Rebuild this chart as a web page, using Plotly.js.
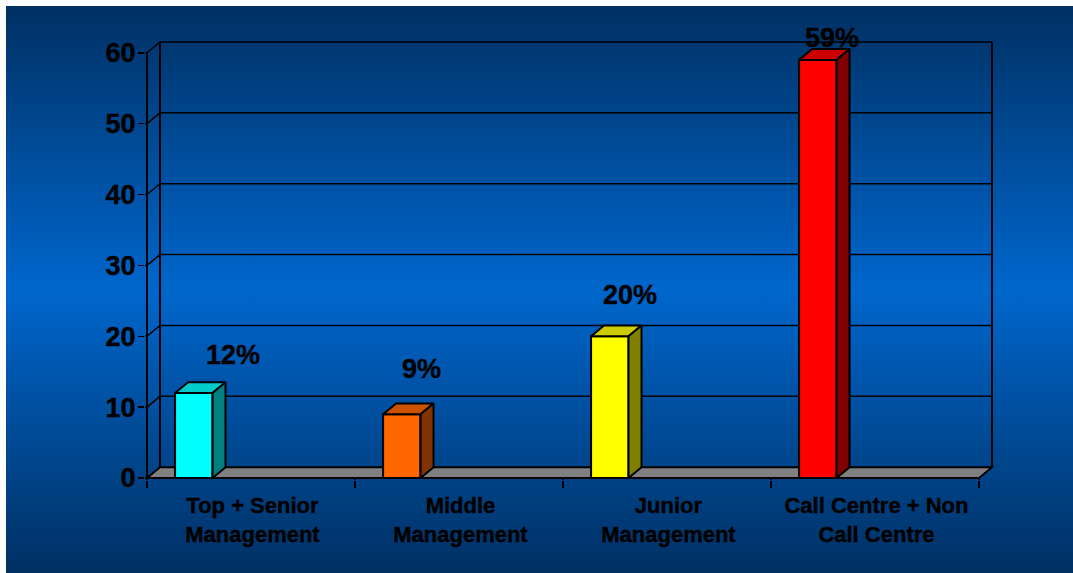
<!DOCTYPE html>
<html>
<head>
<meta charset="utf-8">
<script src="https://cdn.plot.ly/plotly-3.0.1.min.js"></script>
<style>
  html, body { margin: 0; padding: 0; background: #fff; overflow: hidden; }
  #backdrop { position: absolute; left: 6px; top: 6px; right: 0; bottom: 0;
    background: linear-gradient(to bottom, #003063 0%, #0066cc 50%, #003063 100%); }
  #chart { position: absolute; left: 0; top: 0; width: 1073px; height: 573px; }
  /* Slightly heavier lettering than the plain bold face */
  #chart svg text { stroke: #000; stroke-width: 0.4px; }
</style>
</head>
<body>
<div id="backdrop"></div>
<div id="chart"></div>
<script>
// Staff levels, share of respondents in percent
const categories = ["Top + Senior<br>Management", "Middle<br>Management", "Junior<br>Management", "Call Centre + Non<br>Call Centre"];
const values = [12, 9, 20, 59];
const frontColors = ["#00ffff", "#ff6600", "#ffff00", "#ff0000"];
const topColors = ["#00cccc", "#cc5200", "#cccc00", "#cc0000"];
const sideColors = ["#008080", "#803300", "#808000", "#800000"];
const valueTicks = [0, 10, 20, 30, 40, 50, 60];

// Pseudo-3D geometry, all in axis units
const pxPerCat = 208, pxPerVal = 7.083;
const depthX = 13 / pxPerCat, depthY = 10.8 / pxPerVal;
const padX = 2 / pxPerCat, padY = 2 / pxPerVal;
const barStart = 0.135, barWidth = 0.18;
const labelCentre = 0.507;
const nCat = categories.length, valMax = 60;

const lineStyle = { color: "#000", width: 1.5 };
const wallStyle = { color: "#000", width: 2 };
const seg = (x0, y0, x1, y1, line) => ({ type: "line", xref: "x", yref: "y", layer: "below", x0, y0, x1, y1, line });

const shapes = [];
// Floor
shapes.push({ type: "path", xref: "x", yref: "y", layer: "below",
  path: `M0,0 L${depthX},${depthY} L${nCat + depthX},${depthY} L${nCat},0 Z`,
  fillcolor: "#808080", line: wallStyle });
// Gridlines on the back and left walls, each with its tick stub
valueTicks.slice(1).forEach(v => {
  shapes.push({ type: "path", xref: "x", yref: "y", layer: "below",
    path: `M${-padX},${v} L0,${v} L${depthX},${v + depthY} L${nCat + depthX},${v + depthY}`,
    line: lineStyle });
});
shapes.push({ type: "line", xref: "x", yref: "y", layer: "below", x0: -padX, y0: 0, x1: 0, y1: 0, line: lineStyle });
// Wall edges
shapes.push(seg(0, 0, 0, valMax, wallStyle));
shapes.push(seg(depthX, depthY, depthX, valMax + depthY, wallStyle));
shapes.push(seg(nCat + depthX, depthY, nCat + depthX, valMax + depthY, wallStyle));
// Stubs joining the category ticks to the floor edge
for (let i = 0; i <= nCat; i++) shapes.push(seg(i, -padY, i, 0, lineStyle));

const barCenters = values.map((_, i) => i + barStart + barWidth / 2);

const traces = [{
  type: "bar",
  x: barCenters,
  y: values,
  width: barWidth,
  marker: { color: frontColors, line: { color: "#000", width: 2 } },
  hoverinfo: "skip",
  showlegend: false
}];

// Top and side faces of each bar
values.forEach((v, i) => {
  const x0 = i + barStart, x1 = x0 + barWidth;
  traces.push({
    type: "scatter", mode: "lines", fill: "toself", fillcolor: topColors[i],
    x: [x0, x0 + depthX, x1 + depthX, x1, x0],
    y: [v, v + depthY, v + depthY, v, v],
    line: wallStyle, hoverinfo: "skip", showlegend: false
  });
  traces.push({
    type: "scatter", mode: "lines", fill: "toself", fillcolor: sideColors[i],
    x: [x1, x1 + depthX, x1 + depthX, x1, x1],
    y: [0, depthY, v + depthY, v, 0],
    line: wallStyle, hoverinfo: "skip", showlegend: false
  });
});

// Value labels sit at hand-placed offsets from the bar tops
const labelDx = [39, 20, 20, 14];
const labelDy = [38, 45, 41, 22];
const annotations = values.map((v, i) => ({
  xref: "x", yref: "y", x: barCenters[i], y: v,
  text: v + "%", showarrow: false, xanchor: "center", yanchor: "middle",
  xshift: labelDx[i], yshift: labelDy[i],
  font: { family: "Liberation Sans", size: 27, color: "#000", weight: 700 }
}));

const layout = {
  width: 1073, height: 573,
  margin: { l: 144.7, r: 79.3, t: 40.2, b: 93, pad: 0 },
  paper_bgcolor: "rgba(0,0,0,0)",
  plot_bgcolor: "rgba(0,0,0,0)",
  showlegend: false,
  hovermode: false,
  xaxis: {
    type: "linear",
    range: [-padX, nCat + depthX + padX],
    tickmode: "array",
    tickvals: categories.map((_, i) => i + labelCentre),
    ticktext: categories,
    ticks: "",
    ticklabelstandoff: 10,
    showgrid: false, zeroline: false, showline: false,
    tickfont: { family: "Liberation Sans", size: 22, color: "#000", weight: 700 },
    minor: { tickmode: "array", tickvals: categories.map((_, i) => i).concat(nCat), ticks: "outside", ticklen: 7, tickwidth: 1.5, tickcolor: "#000", showgrid: false }
  },
  yaxis: {
    range: [-padY, valMax + depthY + padY],
    tickmode: "array",
    tickvals: valueTicks,
    ticks: "outside", ticklen: 6, tickwidth: 1.5, tickcolor: "#000",
    ticklabelstandoff: -3,
    showgrid: false, zeroline: false, showline: false,
    tickfont: { family: "Liberation Sans", size: 27, color: "#000", weight: 700 }
  },
  shapes,
  annotations
};

Plotly.newPlot("chart", traces, layout, { displayModeBar: false, staticPlot: true });
</script>
</body>
</html>
